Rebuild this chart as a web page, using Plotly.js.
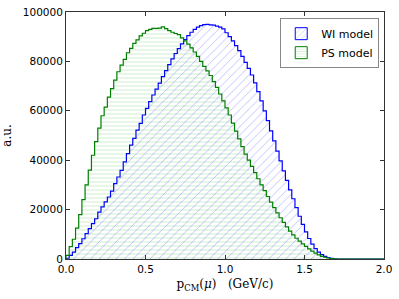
<!DOCTYPE html>
<html>
<head>
<meta charset="utf-8">
<script src="https://cdn.plot.ly/plotly-3.0.1.min.js"></script>
<style>html,body{margin:0;padding:0;background:#fff;}#chart{width:399px;height:299px;}</style>
</head>
<body>
<div id="chart"></div>
<script>
// Histogram bins: width 0.02 from 0.0 to 2.0 (100 bins)
const binStart = 0.0;
const binWidth = 0.02;
const wiModel = [
  300, 1500, 2800, 4600, 6200, 8200, 10300, 12300, 14300, 16300,
  19000, 21100, 23100, 25100, 27500, 30500, 33200, 35900, 39300, 42700,
  46100, 48800, 52200, 54900, 58300, 61000, 63700, 66400, 68800, 71200,
  73800, 76300, 78700, 81000, 83200, 85200, 87100, 88800, 90400, 91800,
  93000, 93900, 94500, 94900, 95000, 94800, 94700, 94300, 93900, 93200,
  91600, 90000, 88300, 86400, 84400, 82000, 79600, 77200, 74500, 71300,
  67800, 64000, 60000, 56000, 51900, 47800, 43700, 39700, 35700, 31800,
  28000, 24400, 20800, 17300, 14000, 11000, 8300, 6000, 4200, 2800,
  1800, 1100, 600, 300, 100, 0, 0, 0, 0, 0,
  0, 0, 0, 0, 0, 0, 0, 0, 0, 0
];
const psModel = [
  1500, 5000, 8000, 12500, 18000, 24000, 30000, 36000, 42000, 47500,
  53000, 58000, 61500, 65500, 69000, 72400, 75800, 78500, 80800, 83500,
  85300, 87300, 88700, 90300, 91400, 92500, 93000, 93400, 93400, 93500,
  94000, 93300, 92500, 91800, 91300, 90800, 89500, 88300, 87000, 85500,
  83800, 82000, 80000, 78000, 76200, 74300, 71800, 69500, 66800, 64000,
  61200, 58300, 55000, 51800, 48600, 45500, 42500, 40000, 37500, 35000,
  32500, 30000, 27700, 25300, 23000, 20800, 18700, 16700, 14800, 13000,
  11300, 9800, 8400, 7200, 6100, 5100, 4100, 3200, 2400, 1700,
  1100, 700, 400, 200, 80, 0, 0, 0, 0, 0,
  0, 0, 0, 0, 0, 0, 0, 0, 0, 0
];
const seriesNames = ['WI model', 'PS model'];
const xTickVals = [0, 0.5, 1.0, 1.5, 2.0];
const xTickText = ['0.0', '0.5', '1.0', '1.5', '2.0'];
const yTickVals = [0, 20000, 40000, 60000, 80000, 100000];
const yTickText = ['0', '20000', '40000', '60000', '80000', '100000'];

function stepPolygon(vals) {
  const xs = [binStart], ys = [0];
  for (let i = 0; i < vals.length; i++) {
    xs.push(binStart + i * binWidth);
    ys.push(vals[i]);
  }
  xs.push(binStart + vals.length * binWidth);
  ys.push(vals[vals.length - 1]);
  xs.push(binStart + vals.length * binWidth);
  ys.push(0);
  return {xs, ys};
}

const wi = stepPolygon(wiModel);
const ps = stepPolygon(psModel);

const wiPattern = {shape: '/', fgcolor: 'rgba(40,40,255,0.6)', bgcolor: 'rgba(0,0,0,0)', size: 6, solidity: 0.15, fillmode: 'overlay'};
const psPattern = {shape: '-', fgcolor: 'rgba(0,150,0,0.38)', bgcolor: 'rgba(0,0,0,0)', size: 4, solidity: 0.25, fillmode: 'overlay'};

const traces = [
  {
    type: 'scatter', mode: 'lines', name: seriesNames[0], showlegend: false,
    x: wi.xs, y: wi.ys,
    line: {shape: 'hv', color: '#0000ff', width: 1.2},
    fill: 'toself', fillcolor: 'rgba(0,0,0,0)',
    fillpattern: wiPattern,
    hoverinfo: 'skip'
  },
  {
    type: 'scatter', mode: 'lines', name: seriesNames[1], showlegend: false,
    x: ps.xs, y: ps.ys,
    line: {shape: 'hv', color: '#008000', width: 1.2},
    fill: 'toself', fillcolor: 'rgba(0,0,0,0)',
    fillpattern: psPattern,
    hoverinfo: 'skip'
  },
  {
    type: 'bar', name: seriesNames[0], x: [null], y: [null],
    marker: {color: 'rgba(0,0,0,0)', line: {color: '#0000ff', width: 1}, pattern: Object.assign({}, wiPattern, {size: 5})}
  },
  {
    type: 'bar', name: seriesNames[1], x: [null], y: [null],
    marker: {color: 'rgba(0,0,0,0)', line: {color: '#008000', width: 1}, pattern: Object.assign({}, psPattern, {size: 3})}
  }
];

const axisCommon = {
  showgrid: false, zeroline: false, showline: true, mirror: 'allticks',
  linecolor: '#333', linewidth: 1, ticks: 'inside', ticklen: 4, tickcolor: '#333',
  tickfont: {family: 'DejaVu Sans', size: 10.5, color: '#000'}
};

const layout = {
  width: 399, height: 299,
  margin: {l: 66, r: 15, t: 12, b: 40},
  paper_bgcolor: '#fff', plot_bgcolor: '#fff',
  showlegend: true,
  barmode: 'overlay',
  legend: {
    x: 0.985, y: 0.975, xanchor: 'right', yanchor: 'top',
    bgcolor: '#fff', bordercolor: '#888', borderwidth: 1,
    font: {family: 'DejaVu Sans', size: 11, color: '#000'},
    itemwidth: 30, tracegroupgap: 2
  },
  xaxis: Object.assign({}, axisCommon, {
    range: [0, 2.0], tickvals: xTickVals, ticktext: xTickText,
    title: {text: 'p<sub>CM</sub>(<i>μ</i>)   (GeV/c)', font: {family: 'DejaVu Serif', size: 12, color: '#000'}, standoff: 6}
  }),
  yaxis: Object.assign({}, axisCommon, {
    range: [0, 100000], tickvals: yTickVals, ticktext: yTickText,
    title: {text: 'a.u.', font: {family: 'DejaVu Serif', size: 12, color: '#000'}, standoff: 10}
  })
};

Plotly.newPlot('chart', traces, layout, {displayModeBar: false, staticPlot: true});
</script>
</body>
</html>
